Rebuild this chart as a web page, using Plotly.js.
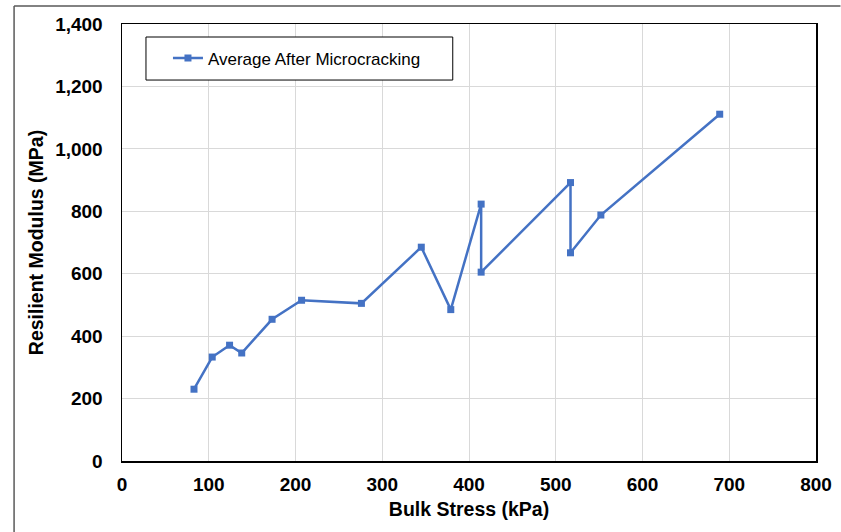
<!DOCTYPE html>
<html>
<head>
<meta charset="utf-8">
<script src="https://cdn.plot.ly/plotly-3.0.1.min.js"></script>
<style>html,body{margin:0;padding:0;background:#fff;}#chart{width:841px;height:532px;}</style>
</head>
<body>
<div id="chart"></div>
<script>
const seriesName = "Average After Microcracking";
const bulkStress = [83, 104, 124, 138, 173, 207, 276, 345, 379, 414, 414, 517, 517, 552, 689];
const resilientModulus = [230, 333, 371, 346, 454, 515, 505, 685, 485, 823, 605, 892, 667, 788, 1111];
const xTicks = [0, 100, 200, 300, 400, 500, 600, 700, 800];
const yTicks = [0, 200, 400, 600, 800, 1000, 1200, 1400];
const xTitle = "Bulk Stress (kPa)";
const yTitle = "Resilient Modulus (MPa)";

const W = 841, H = 532;
const L = 122, R = 816.5, T = 24, B = 460.7;
const pw = R - L, ph = B - T;
const px = v => (v - L) / pw;
const py = v => (B - v) / ph;

const trace = {
  x: bulkStress, y: resilientModulus, name: seriesName,
  type: 'scatter', mode: 'lines+markers',
  line: {color: '#4472C4', width: 2.5},
  marker: {symbol: 'square', size: 7, color: '#4472C4'},
  showlegend: true
};

const fam = 'Liberation Sans, Arial, sans-serif';
const tickFont = {family: fam, size: 19, color: '#000', weight: 'bold'};
const titleFont = {family: fam, size: 19.5, color: '#000', weight: 'bold'};

const layout = {
  width: W, height: H,
  margin: {l: L, r: W - R, t: T, b: H - B, pad: 0},
  paper_bgcolor: '#fff', plot_bgcolor: '#fff',
  showlegend: true,
  legend: {
    x: px(168), y: py(58.5), xanchor: 'left', yanchor: 'middle',
    bgcolor: 'rgba(0,0,0,0)', borderwidth: 0,
    font: {family: fam, size: 17, color: '#000'}
  },
  xaxis: {
    range: [0, 800], tickvals: xTicks, ticktext: xTicks.map(String),
    showgrid: true, gridcolor: '#d9d9d9', gridwidth: 1,
    zeroline: false, showline: true, linecolor: '#000', linewidth: 1.5, mirror: true,
    ticks: '', tickfont: tickFont, ticklabelstandoff: 6,
    title: {text: xTitle, font: titleFont, standoff: 8}
  },
  yaxis: {
    range: [0, 1400], tickvals: yTicks, ticktext: yTicks.map(v => v.toLocaleString('en-US')),
    showgrid: true, gridcolor: '#d9d9d9', gridwidth: 1,
    zeroline: false, showline: true, linecolor: '#000', linewidth: 1.5, mirror: true,
    ticks: '', tickfont: tickFont, ticklabelstandoff: 14,
    title: {text: yTitle, font: titleFont, standoff: 6}
  },
  shapes: [
    {type: 'line', xref: 'paper', yref: 'paper',
     x0: px(14), x1: px(841), y0: py(6), y1: py(6),
     line: {color: '#595959', width: 1.5}, layer: 'below'},
    {type: 'line', xref: 'paper', yref: 'paper',
     x0: px(14), x1: px(14), y0: py(6), y1: py(532),
     line: {color: '#595959', width: 1.5}, layer: 'below'},
    {type: 'rect', xref: 'paper', yref: 'paper',
     x0: px(146), x1: px(453), y0: py(80), y1: py(37),
     line: {color: '#000', width: 1}, fillcolor: '#fff', layer: 'above'}
  ]
};

Plotly.newPlot('chart', [trace], layout, {displayModeBar: false, staticPlot: true});
</script>
</body>
</html>
